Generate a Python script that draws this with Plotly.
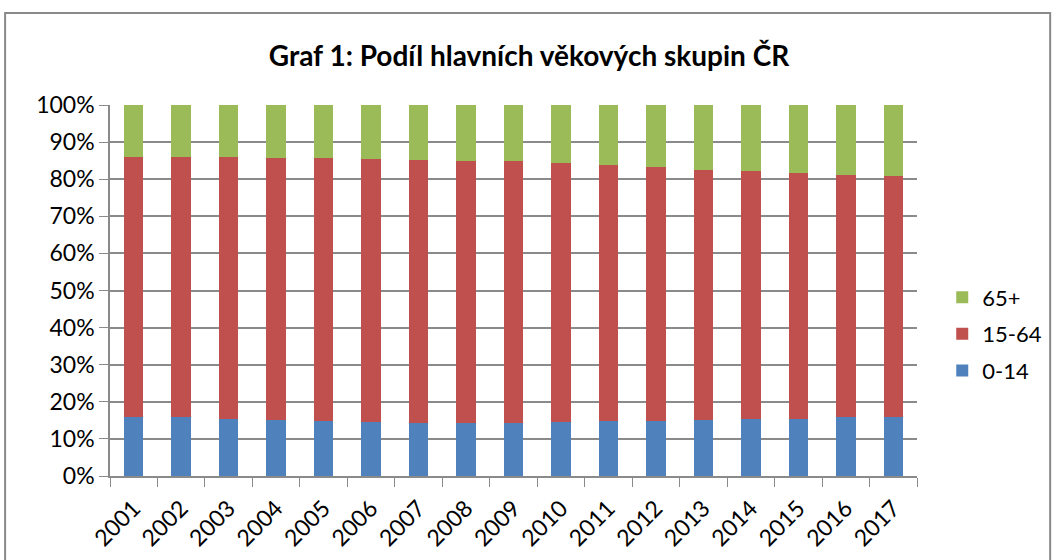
import plotly.graph_objects as go

# Share of main age groups in the Czech Republic (%)
years = [str(y) for y in range(2001, 2018)]
age_0_14 = [16.0, 15.8, 15.4, 15.0, 14.8, 14.5, 14.3, 14.2, 14.3, 14.5,
            14.8, 14.9, 15.1, 15.3, 15.5, 15.8, 15.8]
age_65_plus = [13.9, 13.9, 13.9, 14.2, 14.3, 14.5, 14.7, 15.0, 15.2, 15.5,
               16.2, 16.8, 17.4, 17.9, 18.4, 18.8, 19.2]
age_15_64 = [round(100 - a - b, 1) for a, b in zip(age_0_14, age_65_plus)]

COLORS = {
    '0-14': '#4F81BD',
    '15-64': '#C0504D',
    '65+': '#9BBB59',
}

FONT = 'Lato, Open Sans, sans-serif'
GRID = '#8a8a8a'

fig = go.Figure()
# stacked bottom to top; legend lists top group first
series = [('0-14', age_0_14), ('15-64', age_15_64), ('65+', age_65_plus)]
for i, (name, vals) in enumerate(series):
    fig.add_trace(go.Bar(
        x=years,
        y=vals,
        name=name,
        legendgroup=name,
        legendrank=len(series) - i,
        marker=dict(color=COLORS[name], line=dict(width=0)),
    ))

fig.update_layout(
    barmode='stack',
    barnorm='percent',
    bargap=0.59,
    width=1058,
    height=560,
    margin=dict(l=110, r=140, t=105, b=84),
    plot_bgcolor='white',
    paper_bgcolor='white',
    font=dict(family=FONT, size=23, color='black'),
    title=dict(
        text='<b>Graf 1: Podíl hlavních věkových skupin ČR</b>',
        x=0.5, xanchor='center', xref='container',
        y=0.9, yanchor='middle',
        font=dict(size=28, family=FONT, color='black'),
    ),
    legend=dict(
        traceorder='grouped',
        x=1.03, xanchor='left',
        y=0.383, yanchor='middle',
        font=dict(size=22),
        tracegroupgap=5,
        itemwidth=30,
    ),
    shapes=[dict(
        type='rect', xref='paper', yref='paper',
        x0=-0.13, x1=1.165, y0=-0.35, y1=1.248,
        line=dict(color=GRID, width=2),
        fillcolor='rgba(0,0,0,0)',
        layer='below',
    )],
)

fig.update_yaxes(
    range=[0, 100],
    dtick=10,
    ticksuffix='%',
    showgrid=True,
    gridcolor=GRID,
    gridwidth=1.5,
    showline=True,
    linecolor=GRID,
    linewidth=1.5,
    ticks='outside',
    ticklen=9,
    tickcolor=GRID,
    zeroline=False,
)

fig.update_xaxes(
    tickangle=-45,
    ticklabelstandoff=8,
    automargin=False,
    showline=True,
    linecolor=GRID,
    linewidth=1.5,
    ticks='outside',
    tickson='boundaries',
    ticklen=9,
    tickcolor=GRID,
    showgrid=False,
)

fig.write_html(
    "out.html",
    config={'displayModeBar': False},
    post_script="document.body.style.margin='0';",
)
